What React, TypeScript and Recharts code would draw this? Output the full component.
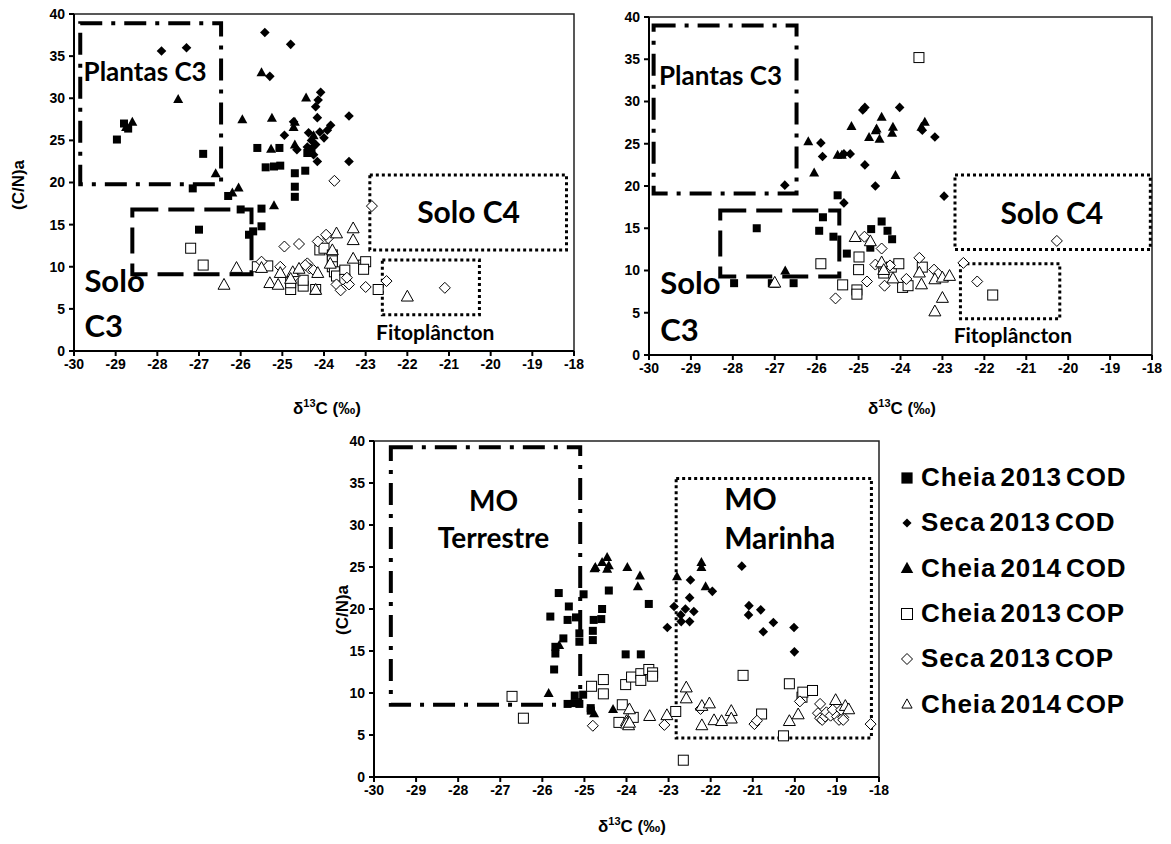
import { ScatterChart, Scatter, XAxis, YAxis, ReferenceArea, ReferenceDot } from 'recharts'

type Pt = [number, number]

const xTicks = [-30, -29, -28, -27, -26, -25, -24, -23, -22, -21, -20, -19, -18]
const yTicks = [0, 5, 10, 15, 20, 25, 30, 35, 40]

const seriesNames = ['Cheia 2013 COD', 'Seca 2013 COD', 'Cheia 2014 COD', 'Cheia 2013 COP', 'Seca 2013 COP', 'Cheia 2014 COP']
const seriesShapes = ['square', 'diamond', 'triangle', 'square', 'diamond', 'triangle']
const seriesOpen = [false, false, false, true, true, true]

// painel 1
const p1CheiaCod13: Pt[] = [[-28.97, 25.1], [-28.8, 27.0], [-28.7, 26.4], [-26.9, 23.4], [-27.15, 19.3], [-26.3, 18.4], [-26.0, 16.8], [-25.5, 16.9], [-27.0, 14.4], [-25.8, 13.8], [-25.7, 14.2], [-25.5, 14.8], [-25.6, 24.1], [-25.07, 24.1], [-25.4, 21.8], [-25.2, 21.9], [-25.05, 22.0], [-24.7, 21.1], [-24.45, 21.4], [-24.7, 19.5], [-24.7, 18.3], [-24.4, 23.5], [-24.3, 24.0]]
const p1SecaCod13: Pt[] = [[-27.9, 35.6], [-27.3, 36.0], [-25.42, 37.8], [-24.8, 36.4], [-25.3, 32.6], [-24.08, 30.7], [-24.14, 29.8], [-24.2, 29.0], [-23.4, 27.9], [-24.16, 27.7], [-24.73, 27.2], [-23.84, 26.8], [-23.92, 26.2], [-24.95, 25.6], [-24.37, 25.9], [-24.65, 23.9], [-24.16, 22.5], [-23.4, 22.5], [-24.3, 25.0], [-24.2, 24.5], [-24.4, 24.2], [-24.0, 25.3], [-24.25, 23.3], [-24.1, 26.0]]
const p1CheiaCod14: Pt[] = [[-27.5, 29.9], [-28.6, 27.2], [-28.75, 26.6], [-25.5, 33.1], [-25.96, 27.5], [-25.25, 27.7], [-24.43, 30.1], [-24.73, 26.6], [-25.27, 24.0], [-24.7, 24.5], [-24.25, 25.6], [-26.6, 21.1], [-26.05, 19.4], [-25.2, 17.3], [-24.7, 27.2], [-26.2, 18.8]]
const p1CheiaCop13: Pt[] = [[-27.2, 12.2], [-26.9, 10.2], [-25.6, 10.0], [-25.35, 10.1], [-24.8, 7.3], [-24.8, 8.1], [-24.5, 7.7], [-24.5, 8.4], [-24.2, 7.3], [-24.1, 12.0], [-24.0, 12.2], [-23.8, 11.4], [-23.8, 10.7], [-23.8, 10.0], [-23.75, 9.4], [-23.7, 8.9], [-23.05, 10.2], [-23.0, 10.6], [-23.05, 9.7], [-22.7, 7.3], [-23.5, 9.6], [-23.5, 8.5]]
const p1SecaCop13: Pt[] = [[-24.95, 12.4], [-24.6, 12.7], [-25.5, 10.6], [-25.05, 10.0], [-24.15, 13.0], [-23.9, 13.4], [-23.95, 13.8], [-24.4, 10.4], [-24.35, 9.8], [-24.25, 9.6], [-23.7, 7.9], [-23.4, 7.9], [-23.0, 7.6], [-22.5, 8.3], [-21.1, 7.5], [-22.85, 17.2], [-23.75, 20.2], [-23.45, 8.7], [-24.7, 8.9], [-24.45, 10.2], [-23.6, 7.2]]
const p1CheiaCop14: Pt[] = [[-26.4, 7.9], [-26.1, 9.9], [-25.3, 8.1], [-25.1, 7.9], [-25.05, 9.3], [-24.75, 9.4], [-24.6, 9.8], [-24.2, 7.3], [-23.7, 14.0], [-23.3, 14.6], [-23.3, 13.2], [-23.3, 11.0], [-23.8, 12.0], [-22.0, 6.5], [-24.15, 9.3], [-23.85, 10.4], [-24.8, 8.6], [-25.5, 9.9]]

// painel 2
const p2CheiaCod13: Pt[] = [[-27.97, 8.5], [-27.43, 15.0], [-27.07, 8.5], [-26.55, 8.5], [-25.94, 14.7], [-25.85, 16.3], [-25.5, 18.9], [-25.6, 14.0], [-25.28, 12.0], [-24.72, 12.7], [-24.7, 14.9], [-24.45, 15.8], [-24.31, 14.7], [-24.2, 13.7]]
const p2SecaCod13: Pt[] = [[-26.76, 20.1], [-25.9, 25.1], [-25.86, 23.5], [-24.85, 29.3], [-24.9, 29.0], [-24.85, 22.5], [-24.6, 20.0], [-25.35, 18.0], [-24.02, 29.3], [-23.48, 26.6], [-23.18, 25.8], [-22.96, 18.8], [-25.2, 23.8], [-25.35, 23.8]]
const p2CheiaCod14: Pt[] = [[-26.2, 25.3], [-26.06, 21.6], [-25.17, 27.1], [-25.4, 23.7], [-24.75, 25.8], [-24.57, 26.8], [-24.45, 28.2], [-24.59, 26.6], [-24.18, 27.0], [-24.2, 26.3], [-24.5, 25.6], [-23.42, 27.6], [-24.12, 21.3], [-23.5, 27.0], [-26.75, 10.0], [-27.0, 8.4], [-25.5, 23.7]]
const p2CheiaCop13: Pt[] = [[-23.56, 35.2], [-25.9, 10.8], [-25.38, 8.3], [-25.04, 7.7], [-25.04, 7.2], [-25.0, 10.1], [-24.99, 11.6], [-24.4, 9.7], [-24.22, 10.4], [-24.04, 10.8], [-23.95, 8.0], [-23.82, 8.2], [-23.48, 10.4], [-21.8, 7.1]]
const p2SecaCop13: Pt[] = [[-25.55, 6.7], [-24.86, 14.0], [-24.6, 10.7], [-24.8, 8.7], [-24.45, 12.6], [-24.38, 8.2], [-24.25, 10.6], [-23.86, 9.0], [-23.55, 11.5], [-23.2, 10.1], [-23.1, 9.6], [-22.5, 10.9], [-22.17, 8.7], [-20.27, 13.5]]
const p2CheiaCop14: Pt[] = [[-25.08, 14.0], [-24.72, 13.5], [-24.45, 11.0], [-24.4, 10.1], [-23.55, 9.8], [-23.5, 8.4], [-23.18, 9.0], [-23.0, 9.2], [-22.83, 9.4], [-23.18, 5.2], [-23.0, 6.8], [-27.0, 8.6], [-24.18, 9.1]]

// painel 3
const p3CheiaCod13: Pt[] = [[-25.61, 21.9], [-25.02, 21.75], [-24.42, 22.2], [-25.37, 20.3], [-24.58, 20.0], [-25.81, 19.1], [-25.4, 18.7], [-25.2, 19.0], [-24.78, 18.7], [-24.6, 18.8], [-24.8, 17.4], [-24.8, 16.3], [-25.5, 16.5], [-23.47, 20.6], [-25.72, 12.8], [-25.69, 14.7], [-25.69, 15.5], [-25.12, 17.1], [-25.12, 16.1], [-24.02, 14.6], [-23.66, 14.6], [-25.23, 9.7], [-25.23, 8.8], [-25.03, 9.8], [-24.85, 8.2], [-24.85, 7.9], [-25.4, 8.7], [-25.12, 8.7]]
const p3SecaCod13: Pt[] = [[-22.48, 23.45], [-21.96, 22.1], [-22.5, 21.35], [-21.26, 25.1], [-21.09, 20.4], [-20.81, 19.9], [-21.1, 19.3], [-20.51, 18.4], [-20.75, 17.3], [-20.02, 17.8], [-22.87, 20.3], [-22.71, 19.3], [-22.5, 18.5], [-22.4, 19.7], [-23.03, 17.8], [-22.7, 18.5], [-20.01, 14.9], [-22.6, 20.0]]
const p3CheiaCod14: Pt[] = [[-24.76, 24.85], [-24.58, 25.6], [-24.46, 26.2], [-24.46, 24.8], [-24.74, 25.0], [-24.42, 25.2], [-23.98, 25.0], [-23.68, 24.0], [-23.73, 22.7], [-22.8, 23.9], [-22.22, 25.6], [-22.22, 25.0], [-22.12, 22.7], [-25.85, 10.0], [-25.6, 15.7], [-24.77, 7.6], [-24.32, 8.1]]
const p3CheiaCop13: Pt[] = [[-26.72, 9.6], [-26.45, 7.0], [-24.83, 10.8], [-24.55, 11.6], [-24.55, 9.9], [-24.02, 11.0], [-23.88, 11.9], [-23.66, 12.3], [-23.66, 11.5], [-23.47, 12.8], [-23.38, 12.4], [-23.38, 12.0], [-24.1, 8.6], [-24.18, 6.5], [-23.84, 7.1], [-22.83, 7.8], [-22.65, 2.0], [-21.23, 12.1], [-20.79, 7.5], [-20.27, 4.9], [-20.13, 11.1], [-19.83, 9.5], [-19.81, 10.1], [-19.58, 10.3]]
const p3SecaCop13: Pt[] = [[-24.8, 6.1], [-23.1, 6.2], [-22.24, 8.1], [-20.96, 6.3], [-20.9, 6.7], [-19.88, 9.0], [-19.4, 8.7], [-19.45, 7.6], [-19.4, 7.0], [-19.35, 6.8], [-19.28, 7.2], [-19.25, 7.7], [-19.15, 7.3], [-19.1, 8.0], [-19.0, 7.2], [-18.95, 6.8], [-18.85, 7.1], [-18.85, 6.8], [-18.9, 8.0], [-18.2, 6.3]]
const p3CheiaCop14: Pt[] = [[-23.93, 8.1], [-24.0, 6.7], [-24.0, 6.4], [-23.95, 6.2], [-23.93, 6.5], [-23.45, 7.3], [-23.04, 7.4], [-22.58, 10.7], [-22.58, 9.4], [-22.21, 8.5], [-22.03, 8.8], [-22.21, 6.2], [-21.92, 6.8], [-21.74, 6.7], [-21.51, 7.9], [-21.51, 7.0], [-20.13, 6.7], [-19.92, 7.5], [-19.03, 9.2], [-18.8, 8.5], [-18.72, 8.1]]

// caixas: [x1, x2, y1, y2, estilo]
type Box = [number, number, number, number, string]
const p1Boxes: Box[] = [[-29.85, -26.47, 19.8, 38.9, 'dashdot'], [-28.6, -25.74, 9.1, 16.8, 'dash'], [-22.9, -18.18, 12.0, 20.9, 'dot'], [-22.6, -20.27, 4.3, 10.8, 'dot']]
const p2Boxes: Box[] = [[-29.89, -26.48, 19.1, 39.0, 'dashdot'], [-28.3, -25.46, 9.3, 17.1, 'dash'], [-22.7, -18.04, 12.5, 21.3, 'dot'], [-22.57, -20.2, 4.3, 10.8, 'dot']]
const p3Boxes: Box[] = [[-29.6, -25.1, 8.6, 39.25, 'dashdot'], [-22.82, -18.18, 4.64, 35.55, 'dot']]

// rótulos: [texto, x, y, tamanho, âncora]
type Lbl = [string, number, number, number, string]
const p1Labels: Lbl[] = [['Plantas C3', -29.77, 33.2, 26, 'start'], ['Solo', -29.75, 8.3, 31, 'start'], ['C3', -29.75, 3.0, 31, 'start'], ['Solo C4', -20.53, 16.5, 30, 'middle'], ['Fitoplâncton', -21.33, 2.2, 21, 'middle']]
const p2Labels: Lbl[] = [['Plantas C3', -29.76, 33.1, 26, 'start'], ['Solo', -29.73, 8.5, 31, 'start'], ['C3', -29.73, 3.0, 31, 'start'], ['Solo C4', -20.39, 16.8, 30, 'middle'], ['Fitoplâncton', -21.32, 2.3, 21, 'middle']]
const p3Labels: Lbl[] = [['MO', -27.16, 32.8, 28, 'middle'], ['Terrestre', -27.16, 28.4, 28, 'middle'], ['MO', -21.68, 33.0, 30, 'start'], ['Marinha', -21.68, 28.4, 30, 'start']]

const dashes: Record<string, string> = { dashdot: '22 9 4 9', dash: '26 10', dot: '3 3' }

const toObj = (pts: Pt[]) => pts.map(([x, y]) => ({ x, y }))

function Marker(props: any) {
  const { cx, cy, kind, open, scale = 1 } = props
  if (cx == null || cy == null) return null
  const fill = open ? '#fff' : '#000'
  const sw = open ? 1 : 0
  if (kind === 'square') {
    const s = (open ? 5 : 4) * scale
    return <rect x={cx - s} y={cy - s} width={2 * s} height={2 * s} fill={fill} stroke="#000" strokeWidth={sw} />
  }
  if (kind === 'diamond') {
    const s = (open ? 5.5 : 4.8) * scale
    return <polygon points={`${cx},${cy - s} ${cx + s},${cy} ${cx},${cy + s} ${cx - s},${cy}`} fill={fill} stroke="#000" strokeWidth={sw} />
  }
  const s = (open ? 6 : 5) * scale
  return <polygon points={`${cx},${cy - s} ${cx + s},${cy + s * 0.8} ${cx - s},${cy + s * 0.8}`} fill={fill} stroke="#000" strokeWidth={sw} />
}

const tickStyle = { fill: '#000', fontSize: 14, fontWeight: 700, fontFamily: '"Liberation Sans", Arial, sans-serif' }

interface PanelProps {
  left: number
  top: number
  w: number
  h: number
  series: Pt[][]
  boxes: Box[]
  labels: Lbl[]
}

function Panel({ left, top, w, h, series, boxes, labels }: PanelProps) {
  return (
    <div style={{ position: 'absolute', left: left - 70, top: top - 10 }}>
      <ScatterChart width={w + 80} height={h + 42} margin={{ top: 10, right: 10, bottom: 0, left: 10 }}>
        <XAxis
          type="number"
          dataKey="x"
          domain={[-30, -18]}
          ticks={xTicks}
          allowDataOverflow
          height={32}
          axisLine={{ stroke: '#000', strokeWidth: 2 }}
          tickLine={{ stroke: '#000', strokeWidth: 2 }}
          tickSize={5}
          tickMargin={3}
          tick={tickStyle}
        />
        <YAxis
          type="number"
          dataKey="y"
          domain={[0, 40]}
          ticks={yTicks}
          allowDataOverflow
          width={60}
          axisLine={{ stroke: '#000', strokeWidth: 2 }}
          tickLine={{ stroke: '#000', strokeWidth: 2 }}
          tickSize={5}
          tickMargin={4}
          tick={tickStyle}
        />
        <ReferenceArea x1={-30} x2={-18} y1={0} y2={40} fill="none" stroke="#222" strokeWidth={1.5} />
        {boxes.map((b, i) => (
          <ReferenceArea
            key={'b' + i}
            x1={b[0]}
            x2={b[1]}
            y1={b[2]}
            y2={b[3]}
            fill="none"
            fillOpacity={0}
            stroke="#000"
            strokeWidth={b[4] === 'dot' ? 3 : 4}
            strokeDasharray={dashes[b[4]]}
          />
        ))}
        {series.map((pts, i) => (
          <Scatter
            key={seriesNames[i]}
            name={seriesNames[i]}
            data={toObj(pts)}
            isAnimationActive={false}
            shape={(p: any) => <Marker {...p} kind={seriesShapes[i]} open={seriesOpen[i]} />}
          />
        ))}
        {labels.map((l, i) => (
          <ReferenceDot
            key={'l' + i}
            x={l[1]}
            y={l[2]}
            r={0}
            fill="none"
            stroke="none"
            label={{
              value: l[0],
              position: l[4] === 'start' ? 'right' : 'center',
              offset: 0,
              fill: '#000',
              fontSize: l[3],
              fontWeight: 700,
              fontFamily: 'Lato, "Open Sans", sans-serif',
            }}
          />
        ))}
      </ScatterChart>
    </div>
  )
}

const titleFont = { fontFamily: '"Liberation Sans", Arial, sans-serif', fontWeight: 700, fontSize: 17, color: '#000', whiteSpace: 'nowrap' as const }

function XTitle({ x, y }: { x: number; y: number }) {
  return (
    <div style={{ ...titleFont, position: 'absolute', left: x, top: y, transform: 'translate(-50%, -50%)' }}>
      δ<sup style={{ fontSize: 11 }}>13</sup>C (‰)
    </div>
  )
}

function YTitle({ x, y }: { x: number; y: number }) {
  return (
    <div style={{ ...titleFont, position: 'absolute', left: x, top: y, transform: 'translate(-50%, -50%) rotate(-90deg)' }}>
      (C/N)a
    </div>
  )
}

const legendScale = [1.4, 0.95, 1.25, 1.1, 1.0, 0.85]

function LegendIcon({ i }: { i: number }) {
  return (
    <svg width={22} height={22} style={{ display: 'block' }}>
      <Marker cx={11} cy={11} kind={seriesShapes[i]} open={seriesOpen[i]} scale={legendScale[i]} />
    </svg>
  )
}

export default function App() {
  return (
    <div style={{ position: 'absolute', left: 0, top: 0, width: 1171, height: 844, background: '#fff', overflow: 'hidden' }}>
      <Panel left={74} top={14} w={500} h={337}
        series={[p1CheiaCod13, p1SecaCod13, p1CheiaCod14, p1CheiaCop13, p1SecaCop13, p1CheiaCop14]}
        boxes={p1Boxes} labels={p1Labels} />
      <Panel left={649} top={17} w={503} h={338}
        series={[p2CheiaCod13, p2SecaCod13, p2CheiaCod14, p2CheiaCop13, p2SecaCop13, p2CheiaCop14]}
        boxes={p2Boxes} labels={p2Labels} />
      <Panel left={374} top={441} w={505} h={336}
        series={[p3CheiaCod13, p3SecaCod13, p3CheiaCod14, p3CheiaCop13, p3SecaCop13, p3CheiaCop14]}
        boxes={p3Boxes} labels={p3Labels} />
      <YTitle x={19} y={185} />
      <YTitle x={343} y={610} />
      <XTitle x={327} y={408} />
      <XTitle x={902} y={408} />
      <XTitle x={632} y={826} />
      <div style={{ position: 'absolute', left: 896, top: 455 }}>
        {seriesNames.map((name, i) => (
          <div key={name} style={{ display: 'flex', alignItems: 'center', height: 45.3 }}>
            <LegendIcon i={i} />
            <span style={{ fontFamily: '"Liberation Sans", Arial, sans-serif', fontWeight: 700, fontSize: 26, letterSpacing: 0.9, wordSpacing: -4, marginLeft: 3, color: '#000' }}>
              {name}
            </span>
          </div>
        ))}
      </div>
    </div>
  )
}
